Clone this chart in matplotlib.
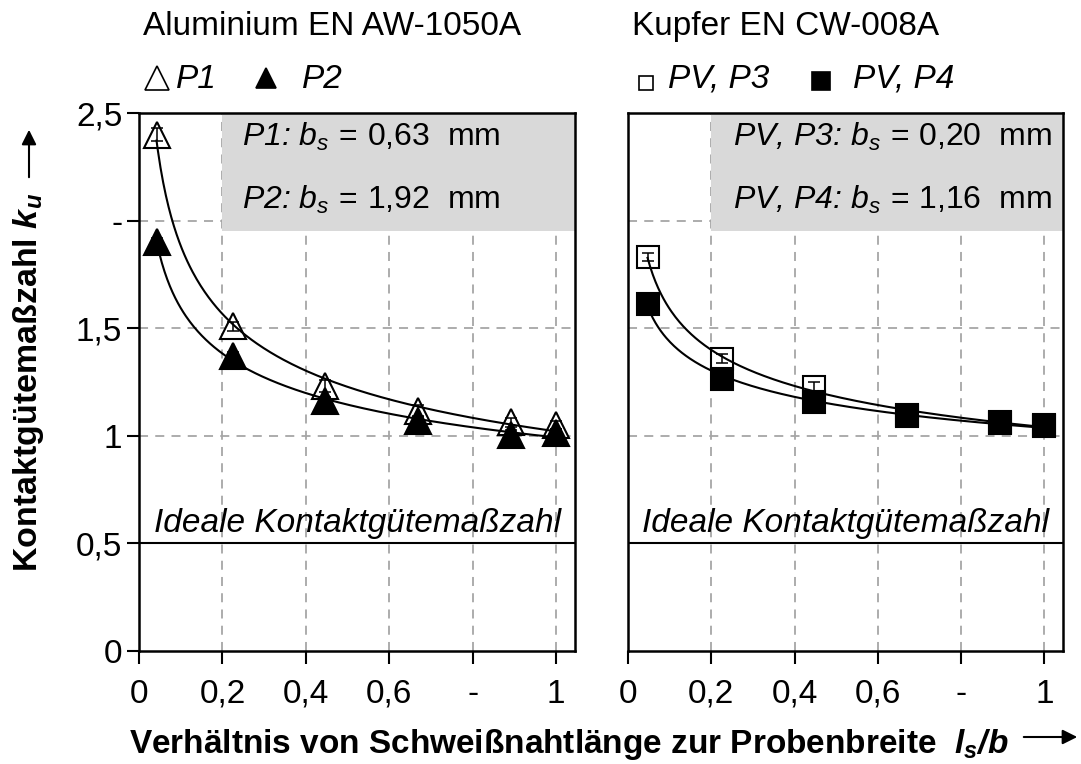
import numpy as np
import matplotlib
matplotlib.use("Agg")
import matplotlib.pyplot as plt
from matplotlib.patches import Rectangle, FancyArrowPatch
from matplotlib.lines import Line2D

plt.rcParams['font.family'] = ['Liberation Sans', 'DejaVu Sans']
plt.rcParams['mathtext.fontset'] = 'custom'
plt.rcParams['mathtext.rm'] = 'Liberation Sans'
plt.rcParams['mathtext.it'] = 'Liberation Sans:italic'
plt.rcParams['mathtext.bf'] = 'Liberation Sans:bold'
try:
    plt.rcParams['mathtext.bfit'] = 'Liberation Sans:italic:bold'
except KeyError:
    pass

# ---------------- data ----------------
x_al = np.array([0.042, 0.225, 0.445, 0.668, 0.891, 1.0])
p1 = np.array([2.40, 1.508, 1.232, 1.117, 1.063, 1.051])
p1_err = np.array([0.03, 0.02, 0.027, 0.025, 0.02, 0.02])
p2 = np.array([1.90, 1.369, 1.161, 1.068, 1.005, 1.012])
p2_err = np.array([0.02, 0.02, 0.02, 0.02, 0.02, 0.02])

x_cu = np.array([0.047, 0.225, 0.447, 0.670, 0.893, 1.0])
p3 = np.array([1.831, 1.359, 1.227, 1.094, 1.063, 1.052])
p3_err = np.array([0.02, 0.02, 0.023, 0.02, 0.02, 0.02])
p4 = np.array([1.614, 1.263, 1.155, 1.098, 1.058, 1.045])
p4_err = np.array([0.02, 0.02, 0.02, 0.02, 0.02, 0.02])

xticks = [0, 0.2, 0.4, 0.6, 0.8, 1.0]
xticklabels = ['0', '0,2', '0,4', '0,6', '-', '1']
yticks = [0, 0.5, 1.0, 1.5, 2.0, 2.5]
yticklabels = ['0', '0,5', '1', '1,5', '-', '2,5']
hgrid = [1.0, 1.5, 2.0]
vgrid = [0.2, 0.4, 0.6, 0.8, 1.0]
ideal = 0.5

titles = ['Aluminium EN AW-1050A', 'Kupfer EN CW-008A']
box_al = [r'P1: $b_s\,=\,0{,}63\ \ \mathrm{mm}$', r'P2: $b_s\,=\,1{,}92\ \ \mathrm{mm}$']
box_cu = [r'PV, P3: $b_s\,=\,0{,}20\ \ \mathrm{mm}$', r'PV, P4: $b_s\,=\,1{,}16\ \ \mathrm{mm}$']
ideal_text = 'Ideale Kontaktgütemaßzahl'
ylabel = r'Kontaktgütemaßzahl $\mathbfit{k_u}$'
xlabel = r'Verhältnis von Schweißnahtlänge zur Probenbreite  $\mathbfit{l_s/b}$'

W, H = 1081, 764
fig = plt.figure(figsize=(W / 100, H / 100), dpi=100)

def fx(px):
    return px / W

def fy(py):
    return 1 - py / H

ax1 = fig.add_axes([fx(139), fy(651), fx(575) - fx(139), fy(113) - fy(651)])
ax2 = fig.add_axes([fx(628), fy(651), fx(1063) - fx(628), fy(113) - fy(651)])

FS = 24
FS_BOX = 23
GRID_C = '#a6a6a6'


def power_curve(ax, x, y):
    b, la = np.polyfit(np.log(x), np.log(y), 1)
    xs = np.linspace(x.min(), x.max(), 300)
    ax.plot(xs, np.exp(la) * xs ** b, color='black', lw=1.5, zorder=6)


def setup(ax, show_y):
    ax.set_xlim(0, 1.045)
    ax.set_ylim(0, 2.5)
    for v in vgrid:
        ax.axvline(v, color=GRID_C, lw=1.3, ls=(0, (5, 4)), zorder=1)
    for h in hgrid:
        ax.axhline(h, color=GRID_C, lw=1.3, ls=(0, (5, 4)), zorder=1)
    ax.add_patch(Rectangle((0.2, 1.95), 1.045 - 0.2, 0.55, facecolor='#d9d9d9',
                           edgecolor='none', zorder=2))
    ax.axhline(ideal, color='black', lw=1.5, zorder=3)
    ax.text(0.5225, 0.555, ideal_text, style='italic', fontsize=FS,
            ha='center', va='baseline', zorder=7)
    ax.set_xticks(xticks)
    ax.set_xticklabels(xticklabels)
    ax.tick_params(axis='x', direction='out', length=9, width=1.5,
                   labelsize=FS, pad=11)
    if show_y:
        ax.set_yticks(yticks)
        ax.set_yticklabels(yticklabels)
        ax.tick_params(axis='y', direction='out', length=9, width=1.5,
                       labelsize=FS, pad=3)
    else:
        ax.set_yticks([])
    for s in ax.spines.values():
        s.set_linewidth(1.8)
        s.set_zorder(10)


setup(ax1, True)
setup(ax2, False)

# Aluminium
ax1.plot(x_al, p1, ls='none', marker='^', ms=18.5, mfc='white', mec='black', mew=1.5, zorder=4)
ax1.errorbar(x_al, p1, yerr=p1_err, fmt='none', ecolor='black', elinewidth=1.1,
             capsize=4, capthick=1.1, zorder=4.2)
ax1.plot(x_al, p2, ls='none', marker='^', ms=18.5, mfc='black', mec='black', mew=1.5, zorder=4.5)
ax1.errorbar(x_al, p2, yerr=p2_err, fmt='none', ecolor='black', elinewidth=1.1,
             capsize=4, capthick=1.1, zorder=4.6)
power_curve(ax1, x_al, p1)
power_curve(ax1, x_al, p2)

# Kupfer
ax2.plot(x_cu, p3, ls='none', marker='s', ms=16, mfc='white', mec='black', mew=1.5, zorder=4)
ax2.errorbar(x_cu, p3, yerr=p3_err, fmt='none', ecolor='black', elinewidth=1.1,
             capsize=4, capthick=1.1, zorder=4.2)
ax2.plot(x_cu, p4, ls='none', marker='s', ms=16, mfc='black', mec='black', mew=1.5, zorder=4.5)
ax2.errorbar(x_cu, p4, yerr=p4_err, fmt='none', ecolor='black', elinewidth=1.1,
             capsize=4, capthick=1.1, zorder=4.6)
power_curve(ax2, x_cu, p3)
power_curve(ax2, x_cu, p4)

# box texts
for ax, lines, x0 in [(ax1, box_al, 0.247), (ax2, box_cu, 0.253)]:
    ax.text(x0, 2.345, lines[0], style='italic', fontsize=FS_BOX, ha='left', va='baseline', zorder=7)
    ax.text(x0, 2.053, lines[1], style='italic', fontsize=FS_BOX, ha='left', va='baseline', zorder=7)

# titles
fig.text(fx(143), fy(35), titles[0], fontsize=FS, ha='left', va='baseline')
fig.text(fx(632), fy(35), titles[1], fontsize=FS, ha='left', va='baseline')

# legend row
def legend_marker(xc, yc, marker, ms, filled):
    fig.add_artist(Line2D([fx(xc)], [fy(yc)], transform=fig.transFigure, ls='none',
                          marker=marker, ms=ms, mfc='black' if filled else 'white',
                          mec='black', mew=1.2))

legend_marker(157, 78, '^', 17.5, False)
fig.text(fx(176), fy(88), 'P1', style='italic', fontsize=FS, ha='left', va='baseline')
legend_marker(266, 78, '^', 15, True)
fig.text(fx(302), fy(88), 'P2', style='italic', fontsize=FS, ha='left', va='baseline')
legend_marker(646, 83, 's', 10.5, False)
fig.text(fx(668), fy(88), 'PV, P3', style='italic', fontsize=FS, ha='left', va='baseline')
legend_marker(821, 81, 's', 13, True)
fig.text(fx(853), fy(88), 'PV, P4', style='italic', fontsize=FS, ha='left', va='baseline')

# axis labels
fig.text(fx(28), fy(572), ylabel, rotation=90, rotation_mode='anchor', ha='left',
         va='center', fontsize=24.5, weight='bold')
fig.text(fx(129), fy(745), xlabel, ha='left', va='center', fontsize=24, weight='bold')

fig.add_artist(FancyArrowPatch((fx(29), fy(180)), (fx(29), fy(127)), transform=fig.transFigure,
                               arrowstyle='-|>', mutation_scale=22, lw=1.5, color='black'))
fig.add_artist(FancyArrowPatch((fx(1021), fy(737)), (fx(1080), fy(737)), transform=fig.transFigure,
                               arrowstyle='-|>', mutation_scale=22, lw=1.5, color='black'))

fig.savefig('out.png', dpi=100)
